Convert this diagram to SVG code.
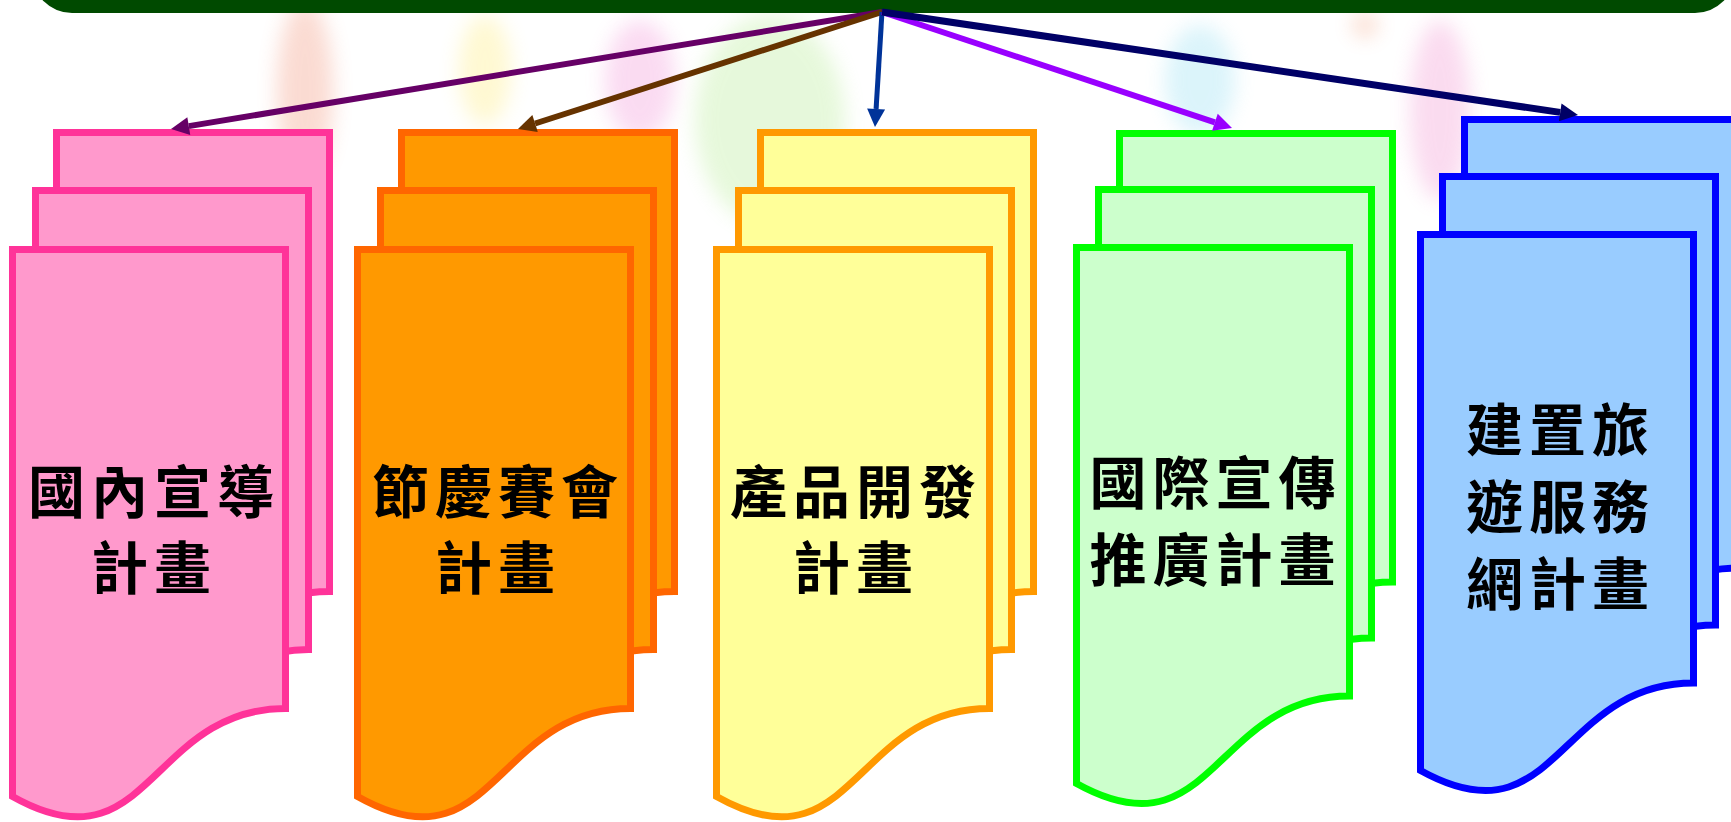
<svg xmlns="http://www.w3.org/2000/svg" xmlns:xlink="http://www.w3.org/1999/xlink" width="1731" height="822" viewBox="0 0 1731 822">
<style>
  .doc { stroke-width: 7; stroke-linejoin: miter; }
  .pink { fill: #FF99CC; stroke: #FF3399; }
  .orange { fill: #FF9900; stroke: #FF6600; }
  .yellow { fill: #FFFF99; stroke: #FF9900; }
  .green { fill: #CCFFCC; stroke: #00FF00; }
  .blue { fill: #99CCFF; stroke: #0000FF; }
  .label { font-family: "Noto Sans CJK TC", "Noto Sans CJK SC", sans-serif; font-size: 57px; font-weight: bold; fill: #000000; text-anchor: middle; letter-spacing: 6px; }
  .conn { fill: none; stroke-linecap: butt; }
</style>
<defs>
  <path id="docTall" d="M0,0 H273 V459 C136.5,459 136.5,624 0,547 Z"/>
  <path id="docShort" d="M0,0 H273 V448.5 C136.5,448.5 136.5,612 0,536 Z"/>
  <filter id="soft" x="-50%" y="-50%" width="200%" height="200%"><feGaussianBlur stdDeviation="10"/></filter>
  <marker id="mPurple" markerUnits="userSpaceOnUse" markerWidth="20" markerHeight="18" refX="0" refY="9" orient="auto" overflow="visible"><path d="M0,0 L18,9 L0,18 Z" fill="#660066"/></marker>
  <marker id="mBrown" markerUnits="userSpaceOnUse" markerWidth="20" markerHeight="18" refX="0" refY="9" orient="auto" overflow="visible"><path d="M0,0 L18,9 L0,18 Z" fill="#663300"/></marker>
  <marker id="mBlue" markerUnits="userSpaceOnUse" markerWidth="20" markerHeight="18" refX="0" refY="9" orient="auto" overflow="visible"><path d="M0,0 L18,9 L0,18 Z" fill="#003399"/></marker>
  <marker id="mViolet" markerUnits="userSpaceOnUse" markerWidth="20" markerHeight="18" refX="0" refY="9" orient="auto" overflow="visible"><path d="M0,0 L18,9 L0,18 Z" fill="#9900FF"/></marker>
  <marker id="mNavy" markerUnits="userSpaceOnUse" markerWidth="20" markerHeight="18" refX="0" refY="9" orient="auto" overflow="visible"><path d="M0,0 L18,9 L0,18 Z" fill="#000066"/></marker>
</defs>

<rect x="0" y="0" width="1731" height="822" fill="#FFFFFF"/>

<g id="background" filter="url(#soft)" opacity="0.28">
  <ellipse cx="305" cy="90" rx="28" ry="90" fill="#F08060"/>
  <ellipse cx="485" cy="70" rx="26" ry="55" fill="#FFE860"/>
  <ellipse cx="640" cy="80" rx="35" ry="60" fill="#F080D0"/>
  <ellipse cx="770" cy="120" rx="75" ry="105" fill="#A8E880"/>
  <ellipse cx="1200" cy="80" rx="35" ry="55" fill="#80D8F0"/>
  <ellipse cx="1365" cy="25" rx="12" ry="12" fill="#F08050"/>
  <ellipse cx="1440" cy="110" rx="30" ry="90" fill="#F080C8"/>
</g>

<g id="top-bar">
  <rect x="32" y="-67" width="1703" height="80" rx="40" ry="40" fill="#004A00"/>
</g>

<g id="node-domestic">
  <use xlink:href="#docTall" href="#docTall" x="56.5" y="132.5" class="doc pink"/>
  <use xlink:href="#docTall" href="#docTall" x="35.5" y="190.5" class="doc pink"/>
  <use xlink:href="#docTall" href="#docTall" x="12.5" y="249.5" class="doc pink"/>
  <text class="label" x="154" y="512.5">國內宣導</text>
  <text class="label" x="154" y="588.5">計畫</text>
</g>

<g id="node-festival">
  <use xlink:href="#docTall" href="#docTall" x="401.5" y="132.5" class="doc orange"/>
  <use xlink:href="#docTall" href="#docTall" x="380.5" y="190.5" class="doc orange"/>
  <use xlink:href="#docTall" href="#docTall" x="357.5" y="249.5" class="doc orange"/>
  <text class="label" x="498" y="512.5">節慶賽會</text>
  <text class="label" x="498" y="588.5">計畫</text>
</g>

<g id="node-product">
  <use xlink:href="#docTall" href="#docTall" x="760.5" y="132.5" class="doc yellow"/>
  <use xlink:href="#docTall" href="#docTall" x="738.5" y="190.5" class="doc yellow"/>
  <use xlink:href="#docTall" href="#docTall" x="716.5" y="249.5" class="doc yellow"/>
  <text class="label" x="856" y="512.5">產品開發</text>
  <text class="label" x="856" y="588.5">計畫</text>
</g>

<g id="node-international">
  <use xlink:href="#docShort" href="#docShort" x="1119.5" y="133.5" class="doc green"/>
  <use xlink:href="#docShort" href="#docShort" x="1098.5" y="189.5" class="doc green"/>
  <use xlink:href="#docShort" href="#docShort" x="1076.5" y="247.5" class="doc green"/>
  <text class="label" x="1215.5" y="504">國際宣傳</text>
  <text class="label" x="1215.5" y="580.5">推廣計畫</text>
</g>

<g id="node-service">
  <use xlink:href="#docShort" href="#docShort" x="1464.5" y="119.5" class="doc blue"/>
  <use xlink:href="#docShort" href="#docShort" x="1442.5" y="176.5" class="doc blue"/>
  <use xlink:href="#docShort" href="#docShort" x="1420.5" y="234.5" class="doc blue"/>
  <text class="label" x="1560.5" y="451">建置旅</text>
  <text class="label" x="1560.5" y="528">遊服務</text>
  <text class="label" x="1560.5" y="605">網計畫</text>
</g>

<g id="connectors">
  <line class="conn" x1="882" y1="12" x2="188.8" y2="126.1" stroke="#660066" stroke-width="6" marker-end="url(#mPurple)"/>
  <line class="conn" x1="882" y1="12" x2="535.1" y2="123.5" stroke="#663300" stroke-width="6" marker-end="url(#mBrown)"/>
  <line class="conn" x1="882" y1="12" x2="876.1" y2="109" stroke="#003399" stroke-width="5" marker-end="url(#mBlue)"/>
  <line class="conn" x1="882" y1="12" x2="1214.9" y2="122.3" stroke="#9900FF" stroke-width="6" marker-end="url(#mViolet)"/>
  <line class="conn" x1="882" y1="12" x2="1560.2" y2="112.4" stroke="#000066" stroke-width="7" marker-end="url(#mNavy)"/>
</g>
</svg>
